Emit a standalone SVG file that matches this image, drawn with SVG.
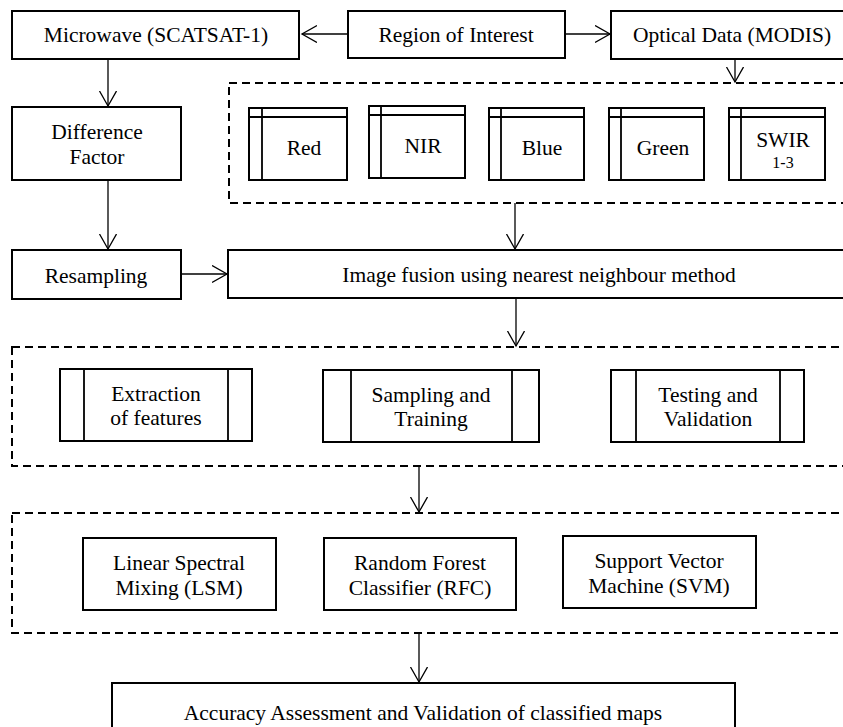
<svg xmlns="http://www.w3.org/2000/svg" width="843" height="727" viewBox="0 0 843 727">
<style>
.box{fill:#fff;stroke:#000;stroke-width:2}
.in{fill:none;stroke:#000;stroke-width:1.8}
.dash{fill:none;stroke:#000;stroke-width:2;stroke-dasharray:8 5}
.s{font-size:16px}
.c{fill:none;stroke:#000;stroke-width:1.3}
</style>
<defs>
<marker id="arr" markerUnits="userSpaceOnUse" markerWidth="18" markerHeight="20" refX="15" refY="9" orient="auto" viewBox="0 0 18 20">
<path d="M0,0.5 L15,9 L0,17.5" fill="none" stroke="#000" stroke-width="1.3"/>
</marker>
</defs>
<rect width="843" height="727" fill="#fff"/>
<g id="group-bands"><rect class="dash" x="229" y="83" width="640" height="120"/></g>
<g id="group-processing"><rect class="dash" x="12" y="347" width="860" height="119"/></g>
<g id="group-classifiers"><rect class="dash" x="12" y="513" width="860" height="120"/></g>
<g id="connectors">
<line class="c" x1="348" y1="34" x2="302" y2="34" marker-end="url(#arr)"/>
<line class="c" x1="565" y1="34" x2="610" y2="34" marker-end="url(#arr)"/>
<line class="c" x1="735" y1="59" x2="735" y2="82" marker-end="url(#arr)"/>
<line class="c" x1="108" y1="59" x2="108" y2="106" marker-end="url(#arr)"/>
<line class="c" x1="108" y1="180" x2="108" y2="249" marker-end="url(#arr)"/>
<line class="c" x1="181" y1="274" x2="227" y2="274" marker-end="url(#arr)"/>
<line class="c" x1="515" y1="203" x2="515" y2="249" marker-end="url(#arr)"/>
<line class="c" x1="516" y1="298" x2="516" y2="346" marker-end="url(#arr)"/>
<line class="c" x1="419" y1="466" x2="419" y2="512" marker-end="url(#arr)"/>
<line class="c" x1="419" y1="633" x2="419" y2="682" marker-end="url(#arr)"/>
</g>
<g font-family="Liberation Serif, Times New Roman, serif" font-size="21.5" text-anchor="middle" fill="#000">
<g id="node-microwave"><rect class="box" x="12" y="11" width="287" height="48"/><text x="156" y="42">Microwave (SCATSAT-1)</text></g>
<g id="node-roi"><rect class="box" x="348" y="11" width="217" height="47"/><text x="456" y="42">Region of Interest</text></g>
<g id="node-optical"><rect class="box" x="611" y="11" width="250" height="48"/><text x="732" y="42">Optical Data (MODIS)</text></g>
<g id="node-difference"><rect class="box" x="12" y="107" width="169" height="73"/><text x="97" y="139">Difference</text><text x="97" y="164">Factor</text></g>
<g id="node-red"><rect class="box" x="249" y="108" width="98" height="72"/><path class="in" d="M249,117H347M262,108V180"/><text x="304" y="155">Red</text></g>
<g id="node-nir"><rect class="box" x="369" y="106" width="96" height="72"/><path class="in" d="M369,115H465M381,106V178"/><text x="423" y="153">NIR</text></g>
<g id="node-blue"><rect class="box" x="489" y="108" width="95" height="72"/><path class="in" d="M489,117H584M501,108V180"/><text x="542" y="155">Blue</text></g>
<g id="node-green"><rect class="box" x="609" y="108" width="95" height="72"/><path class="in" d="M609,117H704M621,108V180"/><text x="663" y="155">Green</text></g>
<g id="node-swir"><rect class="box" x="729" y="108" width="96" height="72"/><path class="in" d="M729,117H825M741,108V180"/><text x="783" y="147">SWIR</text><text class="s" x="783" y="168">1-3</text></g>
<g id="node-resampling"><rect class="box" x="12" y="250" width="169" height="49"/><text x="96" y="283">Resampling</text></g>
<g id="node-fusion"><rect class="box" x="228" y="250" width="630" height="48"/><text x="539" y="282">Image fusion using nearest neighbour method</text></g>
<g id="node-extraction"><rect class="box" x="60" y="369" width="192" height="72"/><path class="in" d="M84,369V441M228,369V441"/><text x="156" y="401">Extraction</text><text x="156" y="425">of features</text></g>
<g id="node-sampling"><rect class="box" x="323" y="370" width="216" height="72"/><path class="in" d="M351,370V442M512,370V442"/><text x="431" y="402">Sampling and</text><text x="431" y="426">Training</text></g>
<g id="node-testing"><rect class="box" x="611" y="370" width="193" height="72"/><path class="in" d="M636,370V442M780,370V442"/><text x="708" y="402">Testing and</text><text x="708" y="426">Validation</text></g>
<g id="node-lsm"><rect class="box" x="83" y="538" width="193" height="72"/><text x="179" y="570">Linear Spectral</text><text x="179" y="595">Mixing (LSM)</text></g>
<g id="node-rfc"><rect class="box" x="324" y="538" width="192" height="72"/><text x="420" y="570">Random Forest</text><text x="420" y="595">Classifier (RFC)</text></g>
<g id="node-svm"><rect class="box" x="563" y="536" width="193" height="72"/><text x="659" y="568">Support Vector</text><text x="659" y="593">Machine (SVM)</text></g>
<g id="node-accuracy"><rect class="box" x="112" y="683" width="623" height="60"/><text x="423" y="720">Accuracy Assessment and Validation of classified maps</text></g>
</g>
</svg>
